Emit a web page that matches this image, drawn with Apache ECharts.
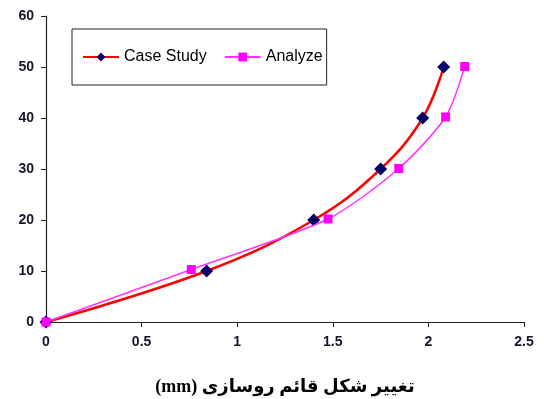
<!DOCTYPE html>
<html>
<head>
<meta charset="utf-8">
<script src="https://cdn.jsdelivr.net/npm/echarts@6/dist/echarts.min.js"></script>
<style>
  html, body { margin: 0; padding: 0; background: #fff; }
  #chart { width: 544px; height: 399px; }
</style>
</head>
<body>
<div id="chart"></div>
<script>
// Vertical deformation (mm) against load level
const caseStudyX = [0, 0.84, 1.40, 1.75, 1.97, 2.08];
const caseStudyY = [0, 10, 20, 30, 40, 50];
const analyzeX = [0, 0.76, 1.475, 1.845, 2.09, 2.19];
const analyzeY = [0, 10.3, 20.2, 30.1, 40.2, 50.1];
const xTicks = { min: 0, max: 2.5, interval: 0.5 };
const yTicks = { min: 0, max: 60, interval: 10 };
// Persian axis title, wrapped in a right-to-left embedding
const xTitle = '\u202Bتغییر شکل قائم روسازی (mm)\u202C';

const pairs = (xs, ys) => xs.map((x, i) => [x, ys[i]]);

const tickFont = { fontFamily: 'Liberation Sans, Arial', fontWeight: 'bold', fontSize: 14, color: '#14142a' };

const chart = echarts.init(document.getElementById('chart'));
chart.setOption({
  animation: false,
  backgroundColor: '#fff',
  grid: { left: 46, right: 20, top: 16, bottom: 77, containLabel: false, outerBoundsMode: 'none' },
  legend: {
    left: 72, top: 29,
    padding: [20, 4, 20, 10],
    itemGap: 17,
    itemWidth: 36, itemHeight: 11,
    borderColor: '#222', borderWidth: 1,
    textStyle: { fontFamily: 'Liberation Sans, Arial', fontSize: 16, color: '#000' },
    data: ['Case Study', 'Analyze']
  },
  xAxis: {
    type: 'value',
    min: xTicks.min, max: xTicks.max, interval: xTicks.interval,
    name: xTitle,
    nameLocation: 'middle',
    nameGap: 56,
    nameTextStyle: { fontFamily: 'Liberation Serif, DejaVu Sans', fontWeight: 'bold', fontSize: 18, color: '#000' },
    axisLine: { lineStyle: { color: '#222', width: 1.2 } },
    axisTick: { length: 5, lineStyle: { color: '#222' } },
    axisLabel: Object.assign({ margin: 13 }, tickFont),
    splitLine: { show: false }
  },
  yAxis: {
    type: 'value',
    min: yTicks.min, max: yTicks.max, interval: yTicks.interval,
    axisLine: { show: true, lineStyle: { color: '#222', width: 1.2 } },
    axisTick: { show: true, length: 5, lineStyle: { color: '#222' } },
    axisLabel: Object.assign({ margin: 12 }, tickFont),
    splitLine: { show: false }
  },
  series: [
    {
      name: 'Case Study',
      type: 'line',
      smooth: 0.4,
      data: pairs(caseStudyX, caseStudyY),
      lineStyle: { color: '#ff0000', width: 2.5 },
      itemStyle: { color: '#000066' },
      symbol: 'diamond',
      symbolSize: 13,
      z: 2
    },
    {
      name: 'Analyze',
      type: 'line',
      smooth: 0.25,
      data: pairs(analyzeX, analyzeY),
      lineStyle: { color: '#ff33ff', width: 1.5 },
      itemStyle: { color: '#ff00ff' },
      symbol: 'rect',
      symbolSize: 9,
      z: 3
    }
  ]
});
</script>
</body>
</html>
